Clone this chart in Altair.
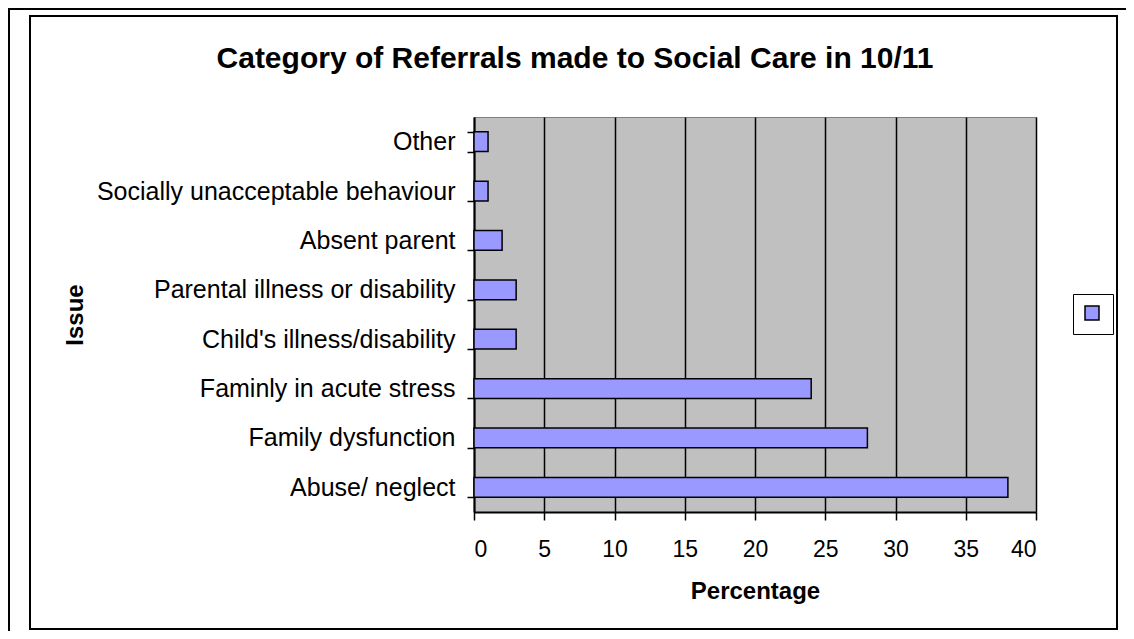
import altair as alt
import pandas as pd

categories = ["Other", "Socially unacceptable behaviour", "Absent parent",
              "Parental illness or disability", "Child's illness/disability",
              "Faminly in acute stress", "Family dysfunction", "Abuse/ neglect"]
values = [1, 1, 2, 3, 3, 24, 28, 38]
x_ticks = [0, 5, 10, 15, 20, 25, 30, 35, 40]
series = ["Series1"] * len(categories)
title_text = "Category of Referrals made to Social Care in 10/11"

df = pd.DataFrame({"Issue": categories, "Percentage": values, "series": series})
one = pd.DataFrame({"a": [0]})

FONT = "Liberation Sans"
W, H = 562, 395
PL, PT = 466, 109
PR = 1118 - PL - W
PB = 623 - PT - H

bars = alt.Chart(df).mark_bar(stroke="black", strokeWidth=1.5).encode(
    x=alt.X("Percentage:Q",
            scale=alt.Scale(domain=[0, 40], nice=False),
            axis=alt.Axis(values=x_ticks, title="Percentage", grid=True,
                          gridColor="black", gridWidth=1.5, gridOpacity=1,
                          domainColor="black", domainWidth=2,
                          tickColor="black", tickWidth=1.5, tickSize=8,
                          labelFontSize=23, labelPadding=18, labelColor="black",
                          labelFont=FONT, titleFont=FONT, titleFontSize=24,
                          titleFontWeight="bold", titleColor="black",
                          titleBaseline="alphabetic", titleX=W / 2, titleY=86)),
    y=alt.Y("Issue:N", sort=categories,
            scale=alt.Scale(paddingInner=0.6, paddingOuter=0.3),
            axis=alt.Axis(title="Issue", grid=False, tickBand="extent",
                          domainColor="black", domainWidth=2,
                          tickColor="black", tickWidth=1.5, tickSize=7,
                          labelFontSize=25, labelPadding=12, labelColor="black",
                          labelFont=FONT, labelLimit=600, titleFont=FONT,
                          titleFontSize=24, titleFontWeight="bold",
                          titleColor="black", titleBaseline="alphabetic",
                          titleX=-392, titleY=H / 2, titleAngle=-90)),
    color=alt.Color("series:N", scale=alt.Scale(range=["#9999FF"]),
                    legend=alt.Legend(orient="none", legendX=599, legendY=177,
                                      title=None, labelExpr="''",
                                      symbolType="square", symbolSize=196,
                                      symbolStrokeColor="black",
                                      symbolStrokeWidth=1.5,
                                      symbolFillColor="#9999FF",
                                      strokeColor="black", padding=11,
                                      labelOffset=0, labelFontSize=1,
                                      fillColor="white")),
)

title = alt.Chart(one).mark_text(
    font=FONT, fontSize=30, fontWeight="bold", color="black",
    align="center", baseline="alphabetic").encode(
    text=alt.value(title_text), x=alt.value(101), y=alt.value(-49))

inner = alt.Chart(one).mark_rect(filled=False, stroke="black", strokeWidth=2).encode(
    x=alt.value(-444), x2=alt.value(643), y=alt.value(-101), y2=alt.value(512))
outer_top = alt.Chart(one).mark_rule(color="black", strokeWidth=2).encode(
    x=alt.value(-466), x2=alt.value(W + PR), y=alt.value(-108))
outer_left = alt.Chart(one).mark_rule(color="black", strokeWidth=2).encode(
    x=alt.value(-465), y=alt.value(-109), y2=alt.value(H + PB))

chart = alt.layer(inner, outer_top, outer_left, title, bars).properties(
    width=W, height=H,
    padding={"left": PL, "top": PT, "right": PR, "bottom": PB},
    autosize=alt.AutoSizeParams(type="none"),
    background="white",
).configure_view(fill="#C0C0C0", stroke="#808080", strokeWidth=1)

chart.save("out.html", embed_options={"renderer": "svg", "actions": False})
